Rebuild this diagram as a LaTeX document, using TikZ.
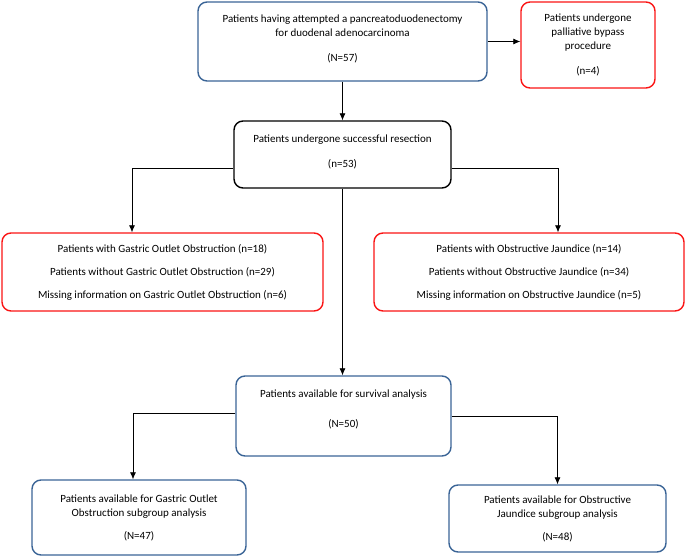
\documentclass[tikz,border=0pt]{standalone}
\usepackage{fontspec}
\setmainfont{Carlito}
\usetikzlibrary{arrows.meta}

\definecolor{boxblue}{RGB}{58,100,150}
\definecolor{boxred}{RGB}{250,20,20}

\begin{document}
\begin{tikzpicture}[x=1pt,y=-1pt,->,>={Latex[length=7pt,width=6pt]},line width=0.7pt,
  box/.style={rectangle,rounded corners=9pt,draw,line width=1.4pt,align=center,
    inner sep=0pt,font=\fontsize{11}{14}\selectfont},
  blue box/.style={box,draw=boxblue},
  red box/.style={box,draw=boxred},
  black box/.style={box,draw=black}]

  \useasboundingbox (0,0) rectangle (685,556);

  \node[blue box,minimum width=289pt,minimum height=79pt] (start) at (342.5,41.5)
    {Patients having attempted a pancreatoduodenectomy\\for duodenal adenocarcinoma\\[11pt](N=57)\\[-8pt]};
  \node[red box,minimum width=134pt,minimum height=86pt] (bypass) at (588,45)
    {Patients undergone\\palliative bypass\\procedure\\[11pt](n=4)};
  \node[black box,minimum width=217pt,minimum height=67pt] (resect) at (342.5,154.5)
    {Patients undergone successful resection\\[11pt](n=53)\\[-8pt]};
  \node[red box,minimum width=321pt,minimum height=78pt,font=\fontsize{11}{23}\selectfont] (goo) at (162.5,272)
    {Patients with Gastric Outlet Obstruction (n=18)\\Patients without Gastric Outlet Obstruction (n=29)\\Missing information on Gastric Outlet Obstruction (n=6)};
  \node[red box,minimum width=310pt,minimum height=78pt,font=\fontsize{11}{23}\selectfont] (oj) at (529,272)
    {Patients with Obstructive Jaundice (n=14)\\Patients without Obstructive Jaundice (n=34)\\Missing information on Obstructive Jaundice (n=5)};
  \node[blue box,minimum width=215pt,minimum height=80pt] (surv) at (343.5,416)
    {Patients available for survival analysis\\[16pt](N=50)\\};
  \node[blue box,minimum width=214pt,minimum height=75pt] (goosub) at (139,517.5)
    {Patients available for Gastric Outlet\\Obstruction subgroup analysis\\[9pt](N=47)};
  \node[blue box,minimum width=217pt,minimum height=67pt] (ojsub) at (557.5,518.5)
    {Patients available for Obstructive\\Jaundice subgroup analysis\\[9pt](N=48)};

  \draw (start) -- (start -| bypass.west);
  \draw (start.south) -- (resect.north);
  \draw ([yshift=-13.5pt]resect.west) -| ([xshift=-30.5pt]goo.north);
  \draw ([yshift=-13.5pt]resect.east) -| ([xshift=29pt]oj.north);
  \draw (resect.south) -- (resect.south |- surv.north);
  \draw ([yshift=3pt]surv.west) -| ([xshift=-6pt]goosub.north);
  \draw (surv.east) -| (ojsub.north);

\end{tikzpicture}
\end{document}
